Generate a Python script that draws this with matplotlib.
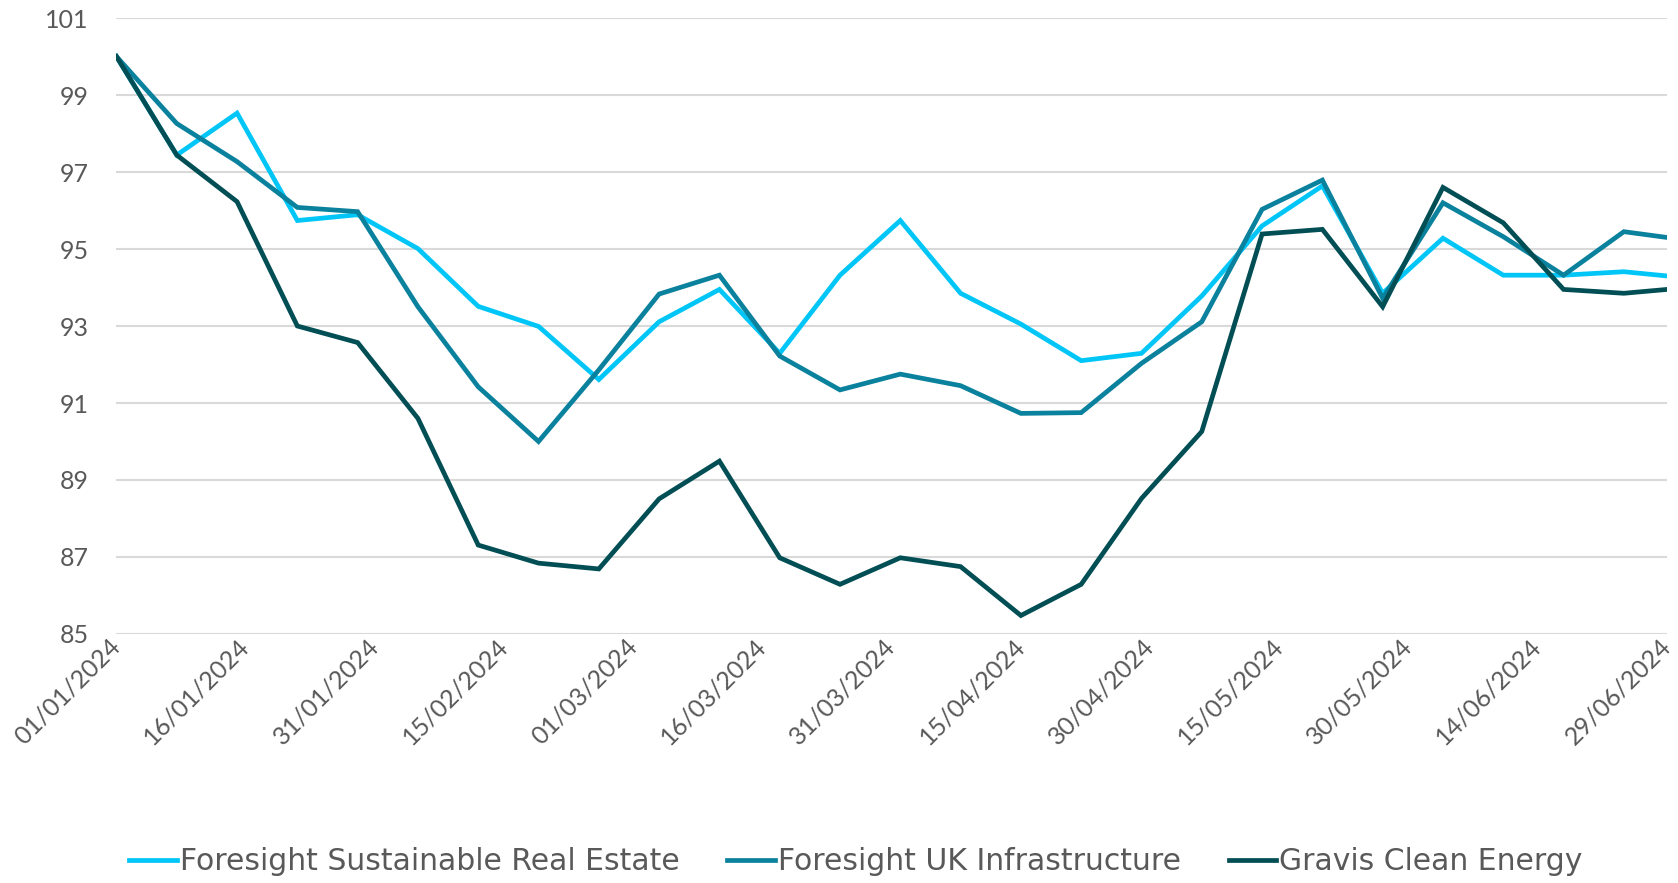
import numpy as np
import pandas as pd
import matplotlib
matplotlib.use("Agg")
import matplotlib.pyplot as plt
import matplotlib.dates as mdates

# weekly dates from 01/01/2024, final point 29/06/2024
dates = list(pd.date_range("2024-01-01", periods=26, freq="7D")) + [pd.Timestamp("2024-06-29")]

fsre = [100.0, 97.44, 98.53, 95.74, 95.89, 95.01, 93.51, 92.99, 91.61, 93.11,
        93.95, 92.29, 94.32, 95.74, 93.85, 93.05, 92.10, 92.29, 93.78, 95.60,
        96.64, 93.85, 95.28, 94.32, 94.32, 94.41, 94.30]
fuki = [100.0, 98.26, 97.27, 96.08, 95.97, 93.50, 91.42, 90.00, 91.86, 93.83,
        94.32, 92.22, 91.34, 91.75, 91.45, 90.73, 90.75, 92.03, 93.11, 96.03,
        96.79, 93.72, 96.20, 95.32, 94.32, 95.45, 95.30]
gravis = [100.0, 97.44, 96.23, 93.00, 92.57, 90.60, 87.31, 86.84, 86.69, 88.51,
          89.49, 86.98, 86.29, 86.98, 86.75, 85.48, 86.29, 88.52, 90.26, 95.39,
          95.51, 93.50, 96.60, 95.68, 93.95, 93.85, 93.95]

labels = ["Foresight Sustainable Real Estate", "Foresight UK Infrastructure", "Gravis Clean Energy"]
colors = ["#00C6F8", "#0A819D", "#024E55"]

tick_dates = pd.date_range("2024-01-01", periods=13, freq="15D")

plt.rcParams['font.family'] = ['Lato', 'DejaVu Sans']

fig = plt.figure(figsize=(16.78, 8.83), dpi=100)
ax = fig.add_axes([0.0694, 0.282, 0.924, 0.6976])

for series, lab, col in zip([fsre, fuki, gravis], labels, colors):
    ax.plot(dates, series, color=col, linewidth=3.4, label=lab, solid_joinstyle='miter')

ax.set_ylim(85, 101)
ax.set_yticks(np.arange(85, 102, 2))
ax.set_xlim(dates[0], dates[-1])
ax.set_xticks(tick_dates)
ax.xaxis.set_major_formatter(mdates.DateFormatter("%d/%m/%Y"))

ax.grid(axis='y', color='#D9D9D9', linewidth=1.5)
ax.set_axisbelow(True)
for s in ax.spines.values():
    s.set_visible(False)
ax.tick_params(length=0, colors='#595959', labelsize=18)
ax.tick_params(axis='y', pad=20)
ax.tick_params(axis='x', pad=6)
for t in ax.get_xticklabels():
    t.set_rotation(45)
    t.set_ha('right')
    t.set_va('center')
    t.set_rotation_mode('anchor')

leg = fig.legend(loc='center', bbox_to_anchor=(0.51, 0.024), ncol=3, frameon=False,
                 prop={'family': 'DejaVu Sans', 'size': 21.5},
                 handlelength=1.6, handletextpad=0.1, columnspacing=1.6)
for t in leg.get_texts():
    t.set_color('#595959')

fig.savefig("out.png", dpi=100)
